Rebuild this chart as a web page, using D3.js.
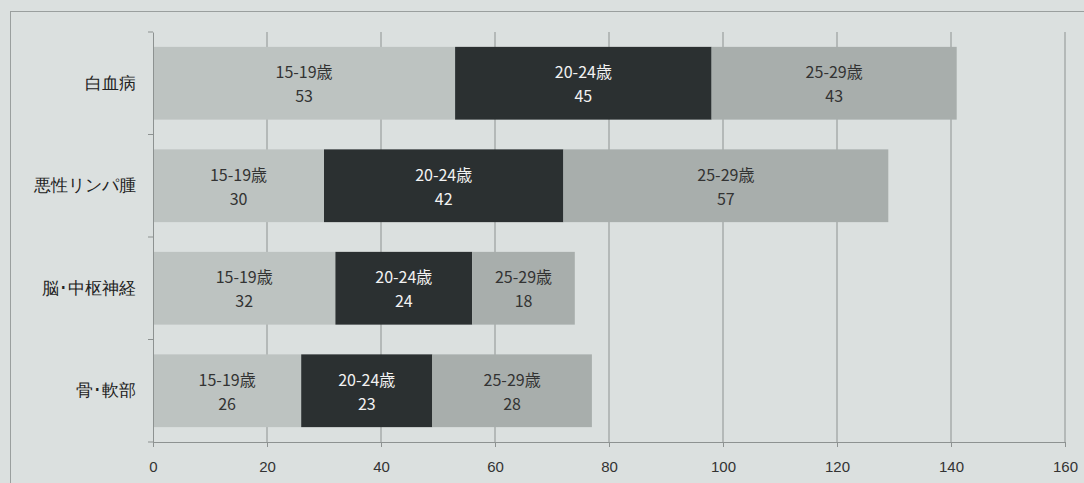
<!DOCTYPE html>
<html>
<head>
<meta charset="utf-8">
<script src="https://cdn.jsdelivr.net/npm/d3@7"></script>
<style>
body { margin: 0; background: #dbe0df; }
svg { display: block; font-family: "Noto Sans CJK JP", "Noto Sans", sans-serif; }
</style>
</head>
<body>
<svg></svg>
<script>
var WIDTH = 1084;
var HEIGHT = 483;

var categories = ['白血病', '悪性リンパ腫', '脳･中枢神経', '骨･軟部'];
var ageGroups = ['15-19歳', '20-24歳', '25-29歳'];
var age15to19 = [53, 30, 32, 26];
var age20to24 = [45, 42, 24, 23];
var age25to29 = [43, 57, 18, 28];
var xTicks = [0, 20, 40, 60, 80, 100, 120, 140, 160];

var colors = ['#bdc3c1', '#2b3031', '#a8aeac'];
var textColors = ['#333', '#f2f2f2', '#333'];

var svg = d3.select('svg')
    .attr('width', WIDTH)
    .attr('height', HEIGHT);

svg.append('rect')
    .attr('width', WIDTH).attr('height', HEIGHT)
    .attr('fill', '#dbe0df');

// outer frame
svg.append('rect')
    .attr('x', 10.5).attr('y', 11.5)
    .attr('width', WIDTH).attr('height', HEIGHT)
    .attr('fill', 'none')
    .attr('stroke', '#9a9f9e');

var xScale = d3.scaleLinear().domain([0, 160]).range([153, 1065]);
var yScale = d3.scaleBand().domain(categories).range([32, 442]).paddingInner(0.29).paddingOuter(0.145);

// grid lines
svg.append('g').selectAll('line')
    .data(xTicks.slice(1))
    .enter().append('line')
    .attr('x1', function(d){ return xScale(d); })
    .attr('x2', function(d){ return xScale(d); })
    .attr('y1', 32).attr('y2', 442)
    .attr('stroke', '#8d9291')
    .attr('stroke-width', 1);

var rows = categories.map(function(c, i){
    return {name: c, values: [age15to19[i], age20to24[i], age25to29[i]]};
});
var stacked = d3.stack().keys([0, 1, 2])(rows.map(function(r){ return r.values; }));

stacked.forEach(function(layer, k){
    var g = svg.append('g');
    g.selectAll('rect')
        .data(layer)
        .enter().append('rect')
        .attr('x', function(d){ return xScale(d[0]); })
        .attr('width', function(d){ return xScale(d[1]) - xScale(d[0]); })
        .attr('y', function(d, i){ return yScale(categories[i]); })
        .attr('height', yScale.bandwidth())
        .attr('fill', colors[k]);
    var labels = g.selectAll('text')
        .data(layer)
        .enter().append('text')
        .attr('text-anchor', 'middle')
        .attr('fill', textColors[k])
        .style('font-size', '16px')
        .attr('transform', function(d, i){
            var cx = (xScale(d[0]) + xScale(d[1])) / 2;
            var cy = yScale(categories[i]) + yScale.bandwidth() / 2;
            return 'translate(' + cx + ',' + cy + ')';
        });
    labels.append('tspan').attr('x', 0).attr('y', -5).text(ageGroups[k]);
    labels.append('tspan').attr('x', 0).attr('y', 19).text(function(d){ return d[1] - d[0]; });
});

// left axis
var leftAxis = d3.axisLeft(yScale).tickSize(0).tickPadding(17);
var left = svg.append('g')
    .attr('transform', 'translate(153,0)')
    .call(leftAxis);
left.select('.domain').attr('stroke', '#8d9291');
left.selectAll('text').style('font-size', '17px').attr('fill', '#222');
left.selectAll('.sep')
    .data(d3.range(5))
    .enter().append('line')
    .attr('x1', -5).attr('x2', 0)
    .attr('y1', function(d){ return 32 + d * 102.5; })
    .attr('y2', function(d){ return 32 + d * 102.5; })
    .attr('stroke', '#8d9291');

// bottom axis
var bottomAxis = d3.axisBottom(xScale).tickValues(xTicks).tickSize(5).tickPadding(14).tickSizeOuter(0);
var bottom = svg.append('g')
    .attr('transform', 'translate(0,442)')
    .call(bottomAxis);
bottom.select('.domain').attr('stroke', '#8d9291');
bottom.selectAll('line').attr('stroke', '#8d9291');
bottom.selectAll('text').style('font-size', '15px').attr('fill', '#333');
</script>
</body>
</html>
